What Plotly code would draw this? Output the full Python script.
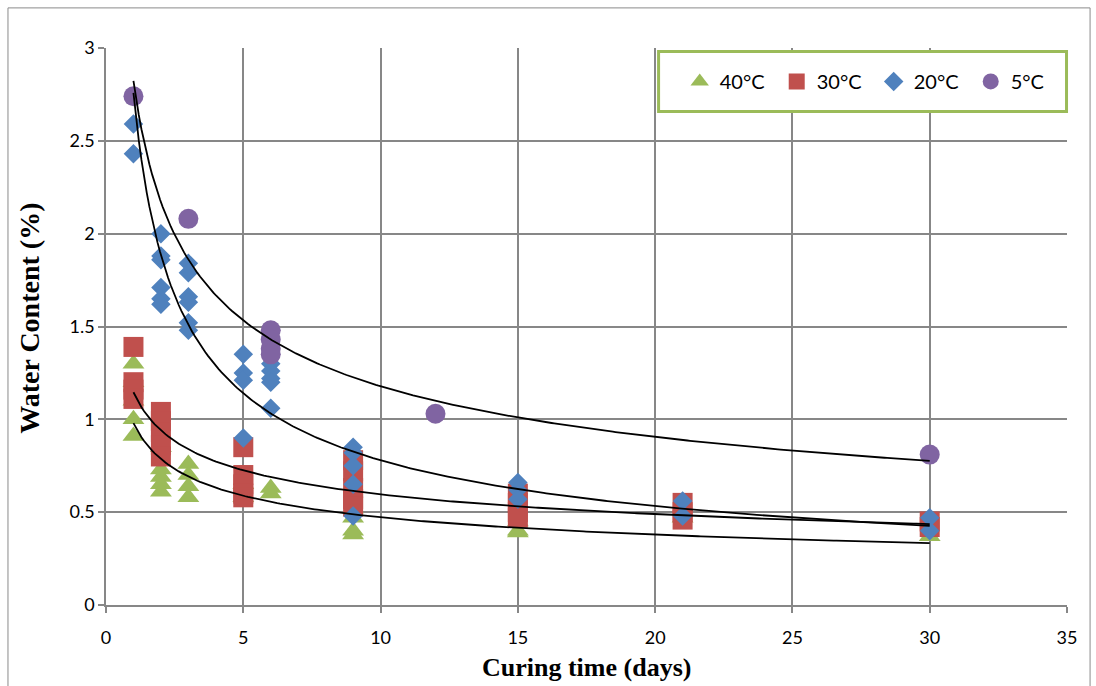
import numpy as np
import plotly.graph_objects as go

# Water content measurements by curing temperature
x_40 = [1, 1, 1, 1, 1, 2, 2, 2, 2, 2, 3, 3, 3, 3, 5, 5, 6, 6, 9, 9, 9, 9,
        15, 15, 15, 21, 30]
y_40 = [1.30, 1.20, 1.10, 1.00, 0.91, 0.85, 0.73, 0.69, 0.65, 0.61, 0.76, 0.70,
        0.64, 0.58, 0.65, 0.58, 0.63, 0.60, 0.52, 0.47, 0.40, 0.38,
        0.45, 0.40, 0.39, 0.47, 0.37]

x_30 = [1, 1, 1, 1, 2, 2, 2, 2, 2, 5, 5, 5, 5, 5, 9, 9, 9, 9, 9,
        15, 15, 15, 15, 21, 21, 21, 30, 30]
y_30 = [1.39, 1.20, 1.16, 1.11, 1.04, 0.99, 0.93, 0.86, 0.80, 0.85, 0.70, 0.65,
        0.60, 0.58, 0.78, 0.72, 0.63, 0.57, 0.53, 0.60, 0.55, 0.50, 0.47,
        0.55, 0.50, 0.46, 0.45, 0.42]

x_20 = [1, 1, 2, 2, 2, 2, 2, 2, 3, 3, 3, 3, 3, 3, 5, 5, 5, 5, 6, 6, 6, 6, 6,
        9, 9, 9, 9, 9, 15, 15, 15, 21, 21, 30, 30]
y_20 = [2.59, 2.43, 2.00, 1.88, 1.86, 1.71, 1.65, 1.62, 1.84, 1.79, 1.66, 1.63,
        1.52, 1.48, 1.35, 1.25, 1.21, 0.90, 1.30, 1.26, 1.22, 1.20, 1.06,
        0.85, 0.82, 0.75, 0.65, 0.48, 0.66, 0.62, 0.57, 0.56, 0.48, 0.47, 0.40]

x_5 = [1, 3, 6, 6, 6, 6, 12, 30]
y_5 = [2.74, 2.08, 1.48, 1.43, 1.38, 1.35, 1.03, 0.81]

series = [
    ("40°C", x_40, y_40, "#9BBB59", "triangle-up", 19),
    ("30°C", x_30, y_30, "#C0504D", "square", 20),
    ("20°C", x_20, y_20, "#4F81BD", "diamond", 15),
    ("5°C", x_5, y_5, "#8064A2", "circle", 20),
]

x_ticks = [0, 5, 10, 15, 20, 25, 30, 35]
y_ticks = [0, 0.5, 1, 1.5, 2, 2.5, 3]

fig = go.Figure()

for name, xs, ys, color, symbol, size in series:
    fig.add_trace(go.Scatter(
        x=xs, y=ys, mode="markers", name=name,
        marker=dict(color=color, symbol=symbol, size=size, line=dict(width=0)),
    ))

# Power-law trendlines (least squares in log-log space), one per series
for name, xs, ys, color, symbol, size in series:
    lx, ly = np.log(xs), np.log(ys)
    b, ln_a = np.polyfit(lx, ly, 1)
    xf = np.linspace(min(xs), max(xs), 300)
    fig.add_trace(go.Scatter(
        x=xf, y=np.exp(ln_a) * xf ** b, mode="lines", showlegend=False,
        line=dict(color="black", width=1.8), hoverinfo="skip",
    ))

grid = "#878787"
tick_font = dict(family="Lato, Carlito, sans-serif", size=18, color="black")
title_font = "Liberation Serif, Times New Roman, serif"

fig.update_layout(
    width=1096, height=686,
    margin=dict(l=106, r=29, t=48, b=81),
    paper_bgcolor="white", plot_bgcolor="white",
    font=dict(family="Lato, sans-serif", color="black"),
    xaxis=dict(
        range=[0, 35], tickvals=x_ticks, showgrid=True, gridcolor=grid, gridwidth=1.6,
        zeroline=False, showline=True, linecolor=grid, linewidth=1.6,
        ticks="outside", ticklen=6, tickcolor=grid, tickwidth=1.6,
        tickfont=tick_font, ticklabelstandoff=10,
    ),
    yaxis=dict(
        range=[0, 3], tickvals=y_ticks, showgrid=True, gridcolor=grid, gridwidth=1.6,
        zeroline=False, showline=True, linecolor=grid, linewidth=1.6,
        ticks="outside", ticklen=6, tickcolor=grid, tickwidth=1.6,
        tickfont=tick_font,
    ),
    legend=dict(
        orientation="h", x=0.597, xanchor="left", y=0.94, yanchor="middle",
        bgcolor="rgba(0,0,0,0)", borderwidth=0,
        font=dict(family="Lato, sans-serif", size=20, color="black"),
        itemsizing="trace", entrywidth=52, entrywidthmode="pixels",
    ),
    showlegend=True,
    annotations=[
        dict(text="<b>Curing time (days)</b>", xref="paper", yref="paper",
             x=0.5, y=-0.113, xanchor="center", yanchor="middle", showarrow=False,
             font=dict(family=title_font, size=26)),
        dict(text="<b>Water Content (%)</b>", xref="paper", yref="paper",
             x=-0.0795, y=0.515, xanchor="center", yanchor="middle", showarrow=False,
             textangle=-90, font=dict(family=title_font, size=28)),
    ],
    shapes=[
        # outer chart border
        dict(type="rect", xref="paper", yref="paper",
             x0=-0.102, x1=1.024, y0=-0.2, y1=1.072,
             line=dict(color="#8a8a8a", width=1), layer="below"),
        # legend frame
        dict(type="rect", xref="paper", yref="paper",
             x0=0.575, x1=0.9995, y0=0.886, y1=0.9937,
             line=dict(color="#9BBB59", width=3), fillcolor="white", layer="above"),
    ],
)

fig.write_html("out.html")
